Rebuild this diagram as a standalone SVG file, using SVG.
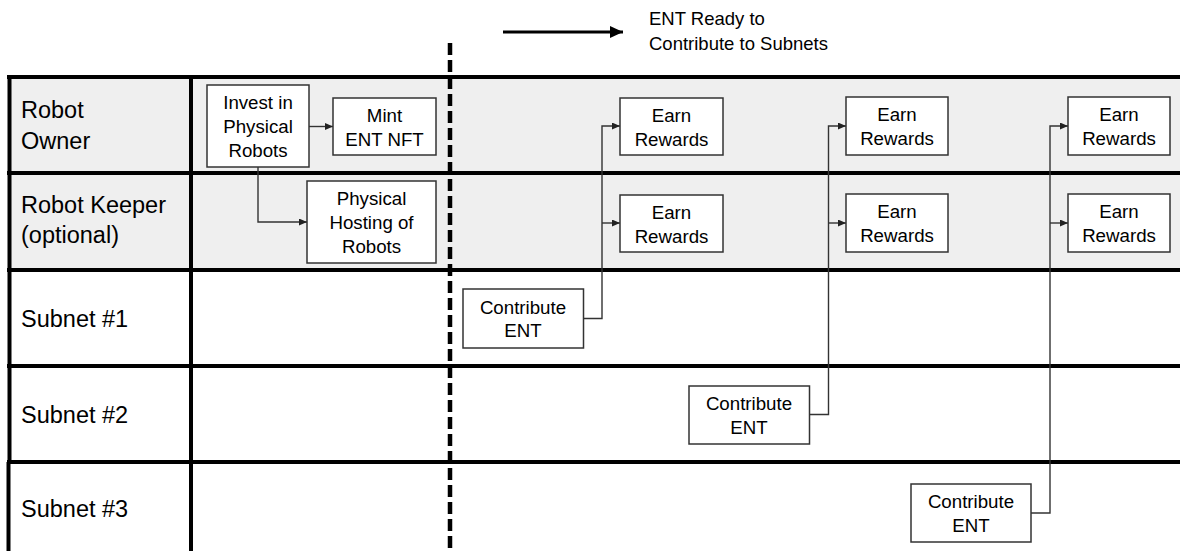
<svg xmlns="http://www.w3.org/2000/svg" width="1180" height="551" viewBox="0 0 1180 551">
  <defs>
    <marker id="arr" markerWidth="9" markerHeight="8" refX="8" refY="3.5" orient="auto" markerUnits="userSpaceOnUse">
      <path d="M0,0 L8,3.5 L0,7 z" fill="#222"/>
    </marker>
    <marker id="bigarr" markerWidth="14" markerHeight="12" refX="13" refY="6" orient="auto" markerUnits="userSpaceOnUse">
      <path d="M0,0 L13,6 L0,12 z" fill="#000"/>
    </marker>
  </defs>
  <style>
    .lane { font-family: "Liberation Sans", Arial, sans-serif; font-size: 23.5px; fill: #000; }
    .box rect { fill: #fff; stroke: #333; stroke-width: 1.5; }
    .box text { font-family: "Liberation Sans", Arial, sans-serif; font-size: 18.7px; fill: #000; text-anchor: middle; }
    .grid { stroke: #000; stroke-width: 4; fill: none; }
    .conn { stroke: #333; stroke-width: 1.4; fill: none; }
    .legend { font-family: "Liberation Sans", Arial, sans-serif; font-size: 18.5px; fill: #000; }
  </style>

  <!-- background shading for top two lanes -->
  <g id="lanes">
    <rect x="9" y="77" width="1171" height="193" fill="#efefef"/>
    <rect x="9" y="270" width="1171" height="281" fill="#fff"/>
    <line class="grid" x1="7" y1="77" x2="1180" y2="77"/>
    <line class="grid" x1="7" y1="173" x2="1180" y2="173"/>
    <line class="grid" x1="7" y1="270" x2="1180" y2="270"/>
    <line class="grid" x1="7" y1="366" x2="1180" y2="366"/>
    <line class="grid" x1="7" y1="462" x2="1180" y2="462"/>
    <line class="grid" x1="9.5" y1="75" x2="9.5" y2="462"/>
    <line class="grid" x1="8.5" y1="462" x2="8.5" y2="551"/>
    <line class="grid" x1="191" y1="75" x2="191" y2="551"/>
    <text class="lane" x="21" y="118">Robot</text>
    <text class="lane" x="21" y="149">Owner</text>
    <text class="lane" x="21" y="213">Robot Keeper</text>
    <text class="lane" x="21" y="243">(optional)</text>
    <text class="lane" x="21" y="327">Subnet #1</text>
    <text class="lane" x="21" y="423">Subnet #2</text>
    <text class="lane" x="21" y="517">Subnet #3</text>
  </g>

  <!-- milestone divider -->
  <line id="divider" x1="450" y1="43" x2="450" y2="551" stroke="#000" stroke-width="4.5" stroke-dasharray="12 5"/>

  <!-- legend -->
  <g id="legend">
    <line x1="503" y1="32" x2="623" y2="32" stroke="#000" stroke-width="3" marker-end="url(#bigarr)"/>
    <text class="legend" x="649" y="25">ENT Ready to</text>
    <text class="legend" x="649" y="50">Contribute to Subnets</text>
  </g>

  <!-- connectors -->
  <g id="connectors">
    <path class="conn" d="M309,126.5 H333" marker-end="url(#arr)"/>
    <path class="conn" d="M258,167 V222 H307" marker-end="url(#arr)"/>
    <path class="conn" d="M583.5,318.5 H602 V126 H620" marker-end="url(#arr)"/>
    <path class="conn" d="M602,223 H620" marker-end="url(#arr)"/>
    <path class="conn" d="M809.5,414.5 H828.5 V126 H846" marker-end="url(#arr)"/>
    <path class="conn" d="M828.5,223 H846" marker-end="url(#arr)"/>
    <path class="conn" d="M1031,513 H1050 V126 H1068" marker-end="url(#arr)"/>
    <path class="conn" d="M1050,223 H1068" marker-end="url(#arr)"/>
  </g>

  <!-- nodes -->
  <g id="invest" class="box">
    <rect x="207" y="85" width="102" height="82"/>
    <text x="258" y="109">Invest in</text>
    <text x="258" y="133">Physical</text>
    <text x="258" y="157">Robots</text>
  </g>
  <g id="mint" class="box">
    <rect x="333" y="98" width="103" height="57"/>
    <text x="384.5" y="121.5">Mint</text>
    <text x="384.5" y="145.5">ENT NFT</text>
  </g>
  <g id="hosting" class="box">
    <rect x="307" y="181" width="129" height="82"/>
    <text x="371.5" y="204.5">Physical</text>
    <text x="371.5" y="228.5">Hosting of</text>
    <text x="371.5" y="252.5">Robots</text>
  </g>
  <g id="earn-owner-1" class="box">
    <rect x="620" y="98" width="103" height="57"/>
    <text x="671.5" y="121.5">Earn</text>
    <text x="671.5" y="145.5">Rewards</text>
  </g>
  <g id="earn-keeper-1" class="box">
    <rect x="620" y="195" width="103" height="57"/>
    <text x="671.5" y="218.5">Earn</text>
    <text x="671.5" y="242.5">Rewards</text>
  </g>
  <g id="earn-owner-2" class="box">
    <rect x="846" y="97" width="102" height="58"/>
    <text x="897" y="121">Earn</text>
    <text x="897" y="145">Rewards</text>
  </g>
  <g id="earn-keeper-2" class="box">
    <rect x="846" y="194" width="102" height="58"/>
    <text x="897" y="218">Earn</text>
    <text x="897" y="242">Rewards</text>
  </g>
  <g id="earn-owner-3" class="box">
    <rect x="1068" y="97" width="102" height="58"/>
    <text x="1119" y="121">Earn</text>
    <text x="1119" y="145">Rewards</text>
  </g>
  <g id="earn-keeper-3" class="box">
    <rect x="1068" y="194" width="102" height="58"/>
    <text x="1119" y="218">Earn</text>
    <text x="1119" y="242">Rewards</text>
  </g>
  <g id="contribute-1" class="box">
    <rect x="463" y="289" width="120.5" height="59"/>
    <text x="523" y="313.5">Contribute</text>
    <text x="523" y="337">ENT</text>
  </g>
  <g id="contribute-2" class="box">
    <rect x="689" y="386" width="120.5" height="58"/>
    <text x="749" y="410">Contribute</text>
    <text x="749" y="434">ENT</text>
  </g>
  <g id="contribute-3" class="box">
    <rect x="911" y="484" width="120" height="58"/>
    <text x="971" y="508">Contribute</text>
    <text x="971" y="532">ENT</text>
  </g>
</svg>
